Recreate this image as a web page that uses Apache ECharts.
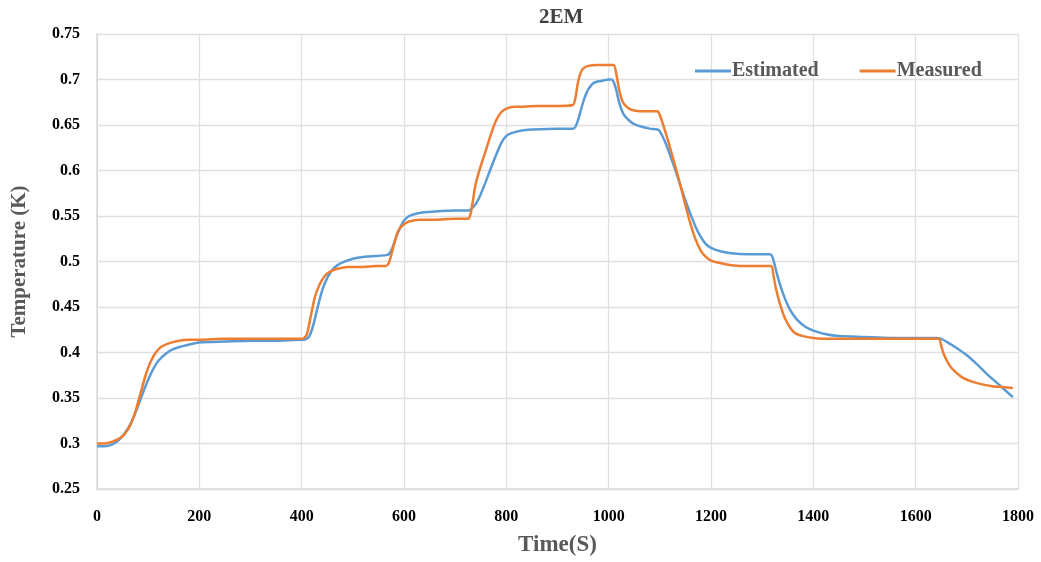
<!DOCTYPE html>
<html><head><meta charset="utf-8">
<script src="https://cdn.jsdelivr.net/npm/echarts@6/dist/echarts.min.js"></script>
<style>html,body{margin:0;padding:0;background:#fff}#c{width:1041px;height:562px}</style>
</head><body><div id="c"></div>
<script>
const title = '2EM';
const xName = 'Time(S)';
const yName = 'Temperature (K)';
const seriesNames = ['Estimated', 'Measured'];

const estTime = [0, 15, 30, 45, 60, 70, 80, 90, 100, 110, 120, 135, 150, 175, 200, 250, 300, 350, 400, 405, 410, 415, 420, 425, 430, 440, 450, 460, 470, 480, 500, 520, 545, 565, 570, 575, 580, 585, 590, 595, 600, 610, 620, 640, 660, 700, 725, 730, 740, 750, 760, 770, 780, 790, 800, 810, 830, 850, 900, 930, 935, 940, 945, 950, 955, 960, 965, 970, 980, 990, 1000, 1005, 1010, 1015, 1020, 1025, 1030, 1040, 1050, 1065, 1080, 1095, 1100, 1110, 1120, 1130, 1140, 1150, 1160, 1170, 1180, 1190, 1200, 1220, 1240, 1270, 1300, 1315, 1320, 1325, 1330, 1340, 1350, 1360, 1370, 1385, 1400, 1425, 1450, 1500, 1550, 1600, 1640, 1650, 1660, 1680, 1700, 1720, 1740, 1760, 1790];
const estVal  = [0.297, 0.297, 0.299, 0.305, 0.316, 0.327, 0.341, 0.356, 0.370, 0.382, 0.391, 0.399, 0.404, 0.408, 0.411, 0.412, 0.413, 0.413, 0.414, 0.414, 0.415, 0.418, 0.425, 0.435, 0.447, 0.468, 0.482, 0.491, 0.496, 0.499, 0.503, 0.505, 0.506, 0.507, 0.508, 0.512, 0.519, 0.527, 0.534, 0.540, 0.545, 0.550, 0.552, 0.554, 0.555, 0.556, 0.556, 0.557, 0.563, 0.574, 0.588, 0.603, 0.617, 0.630, 0.638, 0.641, 0.644, 0.645, 0.646, 0.646, 0.648, 0.655, 0.665, 0.675, 0.683, 0.689, 0.693, 0.696, 0.698, 0.699, 0.700, 0.700, 0.697, 0.688, 0.676, 0.667, 0.661, 0.655, 0.651, 0.648, 0.646, 0.645, 0.643, 0.632, 0.617, 0.601, 0.584, 0.567, 0.552, 0.538, 0.527, 0.519, 0.515, 0.511, 0.509, 0.508, 0.508, 0.508, 0.505, 0.495, 0.484, 0.466, 0.452, 0.442, 0.435, 0.428, 0.424, 0.420, 0.418, 0.417, 0.416, 0.416, 0.416, 0.415, 0.412, 0.405, 0.397, 0.387, 0.376, 0.366, 0.351];

const meaTime = [0, 15, 30, 45, 55, 65, 75, 85, 95, 105, 115, 125, 140, 160, 180, 200, 250, 300, 350, 400, 405, 410, 415, 420, 425, 430, 440, 450, 460, 470, 490, 520, 545, 565, 570, 575, 580, 585, 590, 600, 610, 630, 660, 700, 725, 730, 735, 740, 750, 760, 770, 780, 790, 800, 815, 830, 860, 900, 930, 935, 940, 945, 950, 960, 980, 1000, 1010, 1015, 1020, 1025, 1030, 1040, 1050, 1070, 1095, 1100, 1110, 1120, 1130, 1140, 1150, 1160, 1170, 1180, 1190, 1200, 1220, 1240, 1270, 1300, 1318, 1322, 1327, 1335, 1345, 1355, 1365, 1380, 1400, 1425, 1450, 1500, 1550, 1600, 1645, 1650, 1655, 1665, 1675, 1690, 1710, 1730, 1750, 1770, 1790];
const meaVal  = [0.300, 0.300, 0.302, 0.306, 0.311, 0.320, 0.335, 0.355, 0.375, 0.390, 0.400, 0.406, 0.410, 0.413, 0.414, 0.414, 0.415, 0.415, 0.415, 0.415, 0.416, 0.420, 0.432, 0.446, 0.459, 0.468, 0.480, 0.487, 0.490, 0.492, 0.494, 0.494, 0.495, 0.495, 0.498, 0.507, 0.518, 0.528, 0.535, 0.541, 0.544, 0.546, 0.546, 0.547, 0.547, 0.552, 0.568, 0.585, 0.605, 0.622, 0.640, 0.655, 0.664, 0.668, 0.670, 0.670, 0.671, 0.671, 0.672, 0.680, 0.697, 0.707, 0.712, 0.715, 0.716, 0.716, 0.716, 0.706, 0.690, 0.679, 0.673, 0.668, 0.666, 0.665, 0.665, 0.661, 0.644, 0.625, 0.605, 0.584, 0.562, 0.541, 0.524, 0.512, 0.505, 0.501, 0.498, 0.496, 0.495, 0.495, 0.495, 0.485, 0.470, 0.453, 0.437, 0.427, 0.421, 0.418, 0.416, 0.415, 0.415, 0.415, 0.415, 0.415, 0.415, 0.407, 0.398, 0.387, 0.380, 0.373, 0.368, 0.365, 0.363, 0.362, 0.361];

const xTicks = { min: 0, max: 1800, interval: 200 };
const yTicks = { min: 0.25, max: 0.75, interval: 0.05 };

const zip = (a, b) => a.map((t, i) => [t, b[i]]);
const serif = '"Liberation Serif", "DejaVu Serif", serif';

const chart = echarts.init(document.getElementById('c'), null, { renderer: 'canvas' });
chart.setOption({
  animation: false,
  backgroundColor: '#ffffff',
  title: {
    text: title, left: 534, top: 2,
    textStyle: { fontFamily: serif, fontWeight: 'bold', fontSize: 21, color: '#404040' }
  },
  legend: {
    top: 56, left: 690, itemGap: 41, itemWidth: 36, itemHeight: 3,
    icon: 'rect',
    textStyle: { fontFamily: serif, fontWeight: 'bold', fontSize: 20, color: '#595959', padding: [0, 0, 0, -4] },
    data: seriesNames
  },
  grid: { left: 97, right: 23, top: 34, bottom: 71, containLabel: false },
  xAxis: {
    type: 'value', min: xTicks.min, max: xTicks.max, interval: xTicks.interval,
    name: xName, nameLocation: 'middle', nameGap: 45,
    nameTextStyle: { fontFamily: serif, fontWeight: 'bold', fontSize: 23, color: '#595959' },
    axisLine: { show: true, lineStyle: { color: '#d9d9d9', width: 1.5 } },
    axisTick: { show: false },
    axisLabel: { margin: 20, fontFamily: serif, fontWeight: 'bold', fontSize: 16, color: '#000',
      formatter: v => String(v) },
    splitLine: { show: true, lineStyle: { color: '#e0e0e0', width: 1.3 } }
  },
  yAxis: {
    type: 'value', min: yTicks.min, max: yTicks.max, interval: yTicks.interval,
    name: yName, nameLocation: 'middle', nameGap: 67, nameRotate: 90,
    nameTextStyle: { fontFamily: serif, fontWeight: 'bold', fontSize: 21, color: '#595959' },
    axisLine: { show: true, lineStyle: { color: '#d9d9d9', width: 1.5 } },
    axisTick: { show: false },
    axisLabel: { margin: 17, fontFamily: serif, fontWeight: 'bold', fontSize: 16, color: '#000',
      formatter: v => String(+v.toFixed(2)) },
    splitLine: { show: true, lineStyle: { color: '#e0e0e0', width: 1.3 } }
  },
  series: [
    { name: seriesNames[0], type: 'line', data: zip(estTime, estVal), showSymbol: false, symbol: 'none',
      smooth: 0.25, lineStyle: { color: '#5B9BD5', width: 2.5 }, itemStyle: { color: '#5B9BD5' } },
    { name: seriesNames[1], type: 'line', data: zip(meaTime, meaVal), showSymbol: false, symbol: 'none',
      smooth: 0.25, lineStyle: { color: '#ED7D31', width: 2.5 }, itemStyle: { color: '#ED7D31' } }
  ]
});
</script></body></html>
